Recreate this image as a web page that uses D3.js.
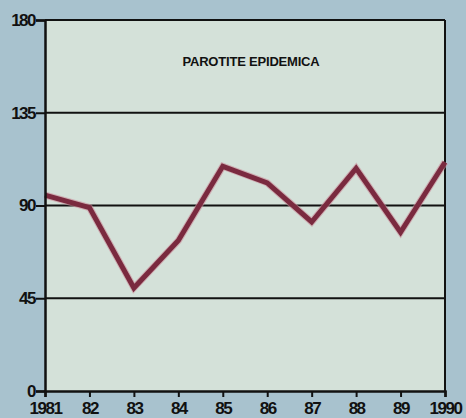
<!DOCTYPE html>
<html>
<head>
<meta charset="utf-8">
<script src="https://cdn.jsdelivr.net/npm/d3@7"></script>
<style>
  html, body { margin: 0; padding: 0; background: #a8c2ce; }
  svg { display: block; }
  text { font-family: "Liberation Sans", Arial, sans-serif; font-weight: bold; fill: #111; }
</style>
</head>
<body>
<svg id="chart" width="466" height="418"></svg>
<script>
const years = [1981, 1982, 1983, 1984, 1985, 1986, 1987, 1988, 1989, 1990];
const yearLabels = ["1981", "82", "83", "84", "85", "86", "87", "88", "89", "1990"];
const values = [95, 89, 50, 73, 109, 101, 82, 108, 77, 111];
const yTicks = [0, 45, 90, 135, 180];
const title = "PAROTITE EPIDEMICA";

const svg = d3.select("#chart");
const mLeft = 45, mRight = 445, mTop = 20, mBottom = 391;

const x = d3.scaleLinear().domain([1981, 1990]).range([mLeft, mRight]);
const y = d3.scaleLinear().domain([0, 180]).range([mBottom, mTop]);

// plot background
svg.append("rect")
  .attr("x", mLeft).attr("y", mTop)
  .attr("width", mRight - mLeft).attr("height", mBottom - mTop)
  .attr("fill", "#d4e1d9");

// gridlines
svg.append("g").selectAll("line")
  .data(yTicks.filter(d => d > 0))
  .join("line")
  .attr("x1", mLeft).attr("x2", mRight)
  .attr("y1", d => y(d)).attr("y2", d => y(d))
  .attr("stroke", "#111").attr("stroke-width", 2);

// right border
svg.append("line")
  .attr("x1", mRight).attr("x2", mRight)
  .attr("y1", mTop).attr("y2", mBottom)
  .attr("stroke", "#111").attr("stroke-width", 2);

// title
svg.append("text")
  .attr("x", 251).attr("y", 66)
  .attr("text-anchor", "middle")
  .style("font-size", "13px")
  .style("letter-spacing", "-0.2px")
  .text(title);

// line
const line = d3.line().x((d, i) => x(years[i])).y(d => y(d));
svg.append("path")
  .datum(values)
  .attr("d", line)
  .attr("fill", "none")
  .attr("stroke", "#c98a98")
  .attr("stroke-width", 7)
  .attr("stroke-linejoin", "miter")
  .attr("opacity", 0.6);
svg.append("path")
  .datum(values)
  .attr("d", line)
  .attr("fill", "none")
  .attr("stroke", "#7a2a3f")
  .attr("stroke-width", 5)
  .attr("stroke-linejoin", "miter");

// y axis
const yAxis = svg.append("g")
  .attr("transform", `translate(${mLeft},0)`)
  .call(d3.axisLeft(y).tickValues(yTicks).tickSize(9).tickPadding(1).tickFormat(d3.format("d")));
yAxis.select(".domain").attr("stroke", "#111").attr("stroke-width", 2.5);
yAxis.selectAll(".tick line").attr("stroke", "#111").attr("stroke-width", 2);
yAxis.selectAll(".tick text")
  .style("font-size", "17px")
  .style("letter-spacing", "-1.5px")
  .attr("fill", "#111");

// x axis
const xAxis = svg.append("g")
  .attr("transform", `translate(0,${mBottom})`)
  .call(d3.axisBottom(x).tickValues(years).tickSize(6).tickPadding(5)
    .tickFormat((d, i) => yearLabels[i]));
xAxis.select(".domain").attr("stroke", "#111").attr("stroke-width", 2.5);
xAxis.selectAll(".tick line").attr("stroke", "#111").attr("stroke-width", 2);
xAxis.selectAll(".tick text")
  .style("font-size", "17px")
  .style("letter-spacing", "-1.5px")
  .attr("fill", "#111");
</script>
</body>
</html>
